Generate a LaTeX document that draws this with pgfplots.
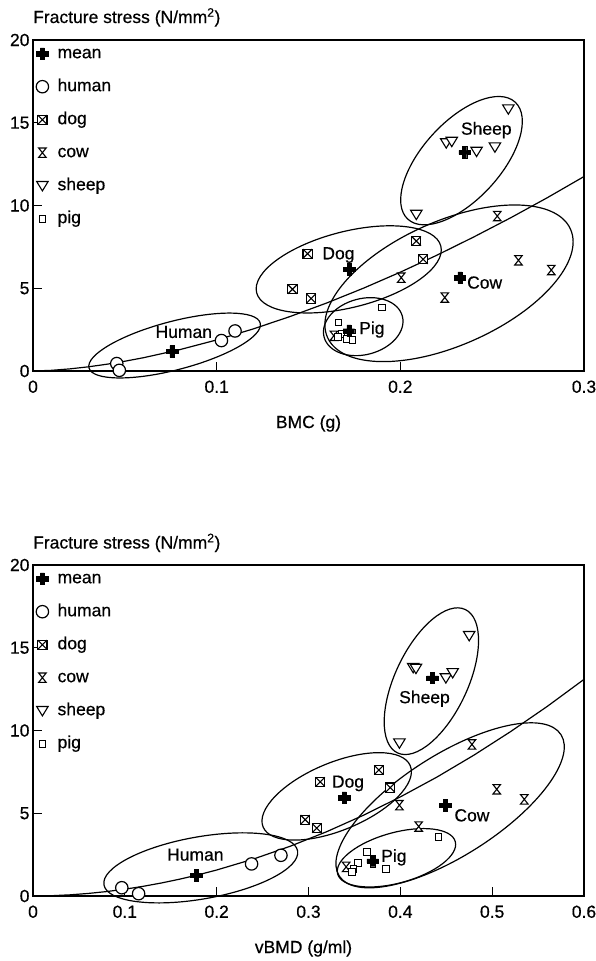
\documentclass[border=0pt]{standalone}
\usepackage{fontspec}
\setmainfont{Liberation Sans}[FakeBold=0.5]
\usepackage{pgfplots}
\pgfplotsset{compat=1.18}

\pgfdeclareplotmark{fatplus}{%
  \pgfpathmoveto{\pgfqpoint{-0.36\pgfplotmarksize}{\pgfplotmarksize}}%
  \pgfpathlineto{\pgfqpoint{0.36\pgfplotmarksize}{\pgfplotmarksize}}%
  \pgfpathlineto{\pgfqpoint{0.36\pgfplotmarksize}{0.36\pgfplotmarksize}}%
  \pgfpathlineto{\pgfqpoint{\pgfplotmarksize}{0.36\pgfplotmarksize}}%
  \pgfpathlineto{\pgfqpoint{\pgfplotmarksize}{-0.36\pgfplotmarksize}}%
  \pgfpathlineto{\pgfqpoint{0.36\pgfplotmarksize}{-0.36\pgfplotmarksize}}%
  \pgfpathlineto{\pgfqpoint{0.36\pgfplotmarksize}{-\pgfplotmarksize}}%
  \pgfpathlineto{\pgfqpoint{-0.36\pgfplotmarksize}{-\pgfplotmarksize}}%
  \pgfpathlineto{\pgfqpoint{-0.36\pgfplotmarksize}{-0.36\pgfplotmarksize}}%
  \pgfpathlineto{\pgfqpoint{-\pgfplotmarksize}{-0.36\pgfplotmarksize}}%
  \pgfpathlineto{\pgfqpoint{-\pgfplotmarksize}{0.36\pgfplotmarksize}}%
  \pgfpathlineto{\pgfqpoint{-0.36\pgfplotmarksize}{0.36\pgfplotmarksize}}%
  \pgfpathclose
  \pgfusepathqfillstroke}
\pgfdeclareplotmark{boxx}{%
  \pgfpathrectangle{\pgfqpoint{-\pgfplotmarksize}{-\pgfplotmarksize}}{\pgfqpoint{2\pgfplotmarksize}{2\pgfplotmarksize}}%
  \pgfusepathqfillstroke
  \pgfpathmoveto{\pgfqpoint{-\pgfplotmarksize}{-\pgfplotmarksize}}%
  \pgfpathlineto{\pgfqpoint{\pgfplotmarksize}{\pgfplotmarksize}}%
  \pgfpathmoveto{\pgfqpoint{-\pgfplotmarksize}{\pgfplotmarksize}}%
  \pgfpathlineto{\pgfqpoint{\pgfplotmarksize}{-\pgfplotmarksize}}%
  \pgfusepathqstroke}
\pgfdeclareplotmark{hglass}{%
  \pgfpathmoveto{\pgfqpoint{-0.8\pgfplotmarksize}{\pgfplotmarksize}}%
  \pgfpathlineto{\pgfqpoint{0.8\pgfplotmarksize}{\pgfplotmarksize}}%
  \pgfpathlineto{\pgfqpoint{-0.8\pgfplotmarksize}{-\pgfplotmarksize}}%
  \pgfpathlineto{\pgfqpoint{0.8\pgfplotmarksize}{-\pgfplotmarksize}}%
  \pgfpathclose
  \pgfusepathqfillstroke}
\pgfdeclareplotmark{dtri}{%
  \pgfpathmoveto{\pgfqpoint{-1.1\pgfplotmarksize}{0.8\pgfplotmarksize}}%
  \pgfpathlineto{\pgfqpoint{1.1\pgfplotmarksize}{0.8\pgfplotmarksize}}%
  \pgfpathlineto{\pgfqpoint{0pt}{-\pgfplotmarksize}}%
  \pgfpathclose
  \pgfusepathqfillstroke}

\newcommand\bigfont{\fontsize{17.5}{21}\selectfont}

\tikzset{ell/.style={black, line width=1.2pt}}

\pgfplotsset{
  meanst/.style={only marks, color=black, mark=fatplus, mark size=5.8pt, mark options={fill=black, line width=0.4pt}},
  humst/.style={only marks, color=black, mark=*, mark size=6.2pt, mark options={fill=white, line width=1.2pt}},
  dogst/.style={only marks, color=black, mark=boxx, mark size=4.6pt, mark options={fill=white, line width=1.1pt}},
  cowst/.style={only marks, color=black, mark=hglass, mark size=4.7pt, mark options={fill=white, line width=1.1pt}},
  sheepst/.style={only marks, color=black, mark=dtri, mark size=5.2pt, mark options={fill=white, line width=1.1pt}},
  pigst/.style={only marks, color=black, mark=square*, mark size=3.4pt, mark options={fill=white, line width=1pt}},
  frac/.style={
    scale only axis, width=551pt, height=331pt,
    clip=false,
    ymin=0, ymax=20, ytick={0,5,10,15,20}, yticklabels={0,5,10,15,20},
    xtick pos=bottom, ytick pos=left,
    tick align=inside, major tick length=9pt,
    axis line style={line width=1.1pt},
    major tick style={line width=1.1pt, black},
    ticklabel style={font=\bigfont},
    xticklabel style={yshift=-6pt},
    legend style={at={(rel axis cs:0,1)}, anchor=north west, xshift=3pt, yshift=-5pt,
      draw=none, fill=none, inner sep=0pt, row sep=16pt, column sep=9pt,
      font=\bigfont, nodes={inner sep=0pt, text height=13pt, text depth=4pt}},
    legend cell align=left,
    legend image code/.code={\draw[##1] plot coordinates {(0pt,0pt)};},
  }
}

\begin{document}
\begin{tikzpicture}[font=\bigfont]
\useasboundingbox (0,0) rectangle (595pt,-961pt);

% ---------------- top: BMC ----------------
\begin{axis}[frac, at={(33pt,-371pt)}, anchor=south west,
  xmin=0, xmax=0.3, xtick={0,0.1,0.2,0.3}, xticklabels={0,0.1,0.2,0.3}]
\addlegendimage{meanst}\addlegendentry{mean}
\addlegendimage{humst}\addlegendentry{human}
\addlegendimage{dogst}\addlegendentry{dog}
\addlegendimage{cowst}\addlegendentry{cow}
\addlegendimage{sheepst}\addlegendentry{sheep}
\addlegendimage{pigst}\addlegendentry{pig}

\addplot[black, line width=1.2pt, forget plot] coordinates {
 (0,0) (0.01,0.040) (0.02,0.128) (0.03,0.251) (0.04,0.406) (0.05,0.590) (0.06,0.800)
 (0.08,1.293) (0.10,1.877) (0.12,2.545) (0.14,3.294) (0.16,4.113) (0.18,5.007)
 (0.20,5.972) (0.22,7.002) (0.24,8.100) (0.26,9.253) (0.28,10.47) (0.30,11.75)};

\draw[ell, rotate around={14.7:(axis cs:0.0771,1.54)}] (axis cs:0.0771,1.54) ellipse [x radius=88.5pt, y radius=24.2pt];
\draw[ell, rotate around={14.2:(axis cs:0.1719,6.14)}] (axis cs:0.1719,6.14) ellipse [x radius=95pt, y radius=38pt];
\draw[ell, rotate around={47.5:(axis cs:0.2333,12.71)}] (axis cs:0.2333,12.71) ellipse [x radius=79.4pt, y radius=38.9pt];
\draw[ell, rotate around={15:(axis cs:0.1798,2.68)}] (axis cs:0.1798,2.68) ellipse [x radius=40.5pt, y radius=28pt];
\draw[ell, rotate around={24:(axis cs:0.2265,5.30)}] (axis cs:0.2265,5.30) ellipse [x radius=133pt, y radius=62pt];

\addplot[humst, forget plot] coordinates {(0.0456,0.45) (0.047,0.04) (0.1026,1.84) (0.110,2.42)};
\addplot[dogst, forget plot] coordinates {(0.1495,7.09) (0.2087,7.85) (0.2124,6.75) (0.1413,4.94) (0.1514,4.38)};
\addplot[cowst, forget plot] coordinates {(0.2528,9.36) (0.2005,5.64) (0.2643,6.69) (0.2822,6.10) (0.2242,4.44) (0.1638,2.13)};
\addplot[sheepst, forget plot] coordinates {(0.2588,15.83) (0.225,13.78) (0.228,13.87) (0.2415,13.27) (0.2515,13.53) (0.2087,9.46)};
\addplot[pigst, forget plot] coordinates {(0.190,3.84) (0.1663,2.93) (0.168,2.25) (0.171,1.95) (0.174,1.85) (0.166,2.05)};
\addplot[meanst, forget plot] coordinates {(0.0757,1.18) (0.1723,6.14) (0.235,13.21) (0.2324,5.64) (0.172,2.43)};

\node[anchor=base] at (axis cs:0.0821,2.0) {Human};
\node[anchor=base] at (axis cs:0.1663,6.75) {Dog};
\node[anchor=base] at (axis cs:0.2468,14.28) {Sheep};
\node[anchor=base] at (axis cs:0.2459,4.98) {Cow};
\node[anchor=base] at (axis cs:0.1845,2.23) {Pig};

\node[anchor=base west, inner sep=0pt, yshift=17pt] at (rel axis cs:0,1) {Fracture stress (N/mm\textsuperscript{2})};
\node[anchor=base, inner sep=0pt, yshift=-57pt] at (rel axis cs:0.5,0) {BMC (g)};
\end{axis}

% ---------------- bottom: vBMD ----------------
\begin{axis}[frac, at={(33pt,-896pt)}, anchor=south west,
  xmin=0, xmax=0.6, xtick={0,0.1,0.2,0.3,0.4,0.5,0.6}, xticklabels={0,0.1,0.2,0.3,0.4,0.5,0.6}]
\addlegendimage{meanst}\addlegendentry{mean}
\addlegendimage{humst}\addlegendentry{human}
\addlegendimage{dogst}\addlegendentry{dog}
\addlegendimage{cowst}\addlegendentry{cow}
\addlegendimage{sheepst}\addlegendentry{sheep}
\addlegendimage{pigst}\addlegendentry{pig}

\addplot[black, line width=1.2pt, forget plot] coordinates {
 (0,0) (0.02,0.018) (0.04,0.070) (0.06,0.154) (0.08,0.268) (0.10,0.412) (0.12,0.586)
 (0.14,0.789) (0.16,1.021) (0.18,1.281) (0.20,1.571) (0.24,2.233) (0.28,3.006)
 (0.32,3.891) (0.36,4.883) (0.40,5.988) (0.44,7.191) (0.48,8.507) (0.52,9.931)
 (0.56,11.457) (0.60,13.09)};

\draw[ell, rotate around={9.95:(axis cs:0.1827,1.70)}] (axis cs:0.1827,1.70) ellipse [x radius=98.3pt, y radius=31.1pt];
\draw[ell, rotate around={22.6:(axis cs:0.3307,6.02)}] (axis cs:0.3307,6.02) ellipse [x radius=79.7pt, y radius=33.8pt];
\draw[ell, rotate around={64.7:(axis cs:0.4338,12.98)}] (axis cs:0.4338,12.98) ellipse [x radius=79.3pt, y radius=36.3pt];
\draw[ell, rotate around={32.5:(axis cs:0.4542,5.48)}] (axis cs:0.4542,5.48) ellipse [x radius=131.5pt, y radius=50.5pt];
\draw[ell, rotate around={15.4:(axis cs:0.3958,2.31)}] (axis cs:0.3958,2.31) ellipse [x radius=61pt, y radius=25.2pt];

\addplot[humst, forget plot] coordinates {(0.0967,0.50) (0.115,0.14) (0.238,1.94) (0.270,2.46)};
\addplot[dogst, forget plot] coordinates {(0.3128,6.90) (0.3766,7.61) (0.389,6.55) (0.2964,4.61) (0.309,4.10)};
\addplot[cowst, forget plot] coordinates {(0.478,9.16) (0.399,5.49) (0.505,6.45) (0.535,5.84) (0.420,4.20) (0.341,1.76)};
\addplot[sheepst, forget plot] coordinates {(0.475,15.73) (0.414,13.80) (0.417,13.75) (0.4496,13.18) (0.457,13.49) (0.399,9.24)};
\addplot[pigst, forget plot] coordinates {(0.4416,3.55) (0.364,2.67) (0.354,2.00) (0.349,1.65) (0.347,1.45) (0.384,1.65)};
\addplot[meanst, forget plot] coordinates {(0.178,1.26) (0.339,5.94) (0.435,13.18) (0.449,5.47) (0.370,2.12)};

\node[anchor=base] at (axis cs:0.1768,2.14) {Human};
\node[anchor=base] at (axis cs:0.343,6.55) {Dog};
\node[anchor=base] at (axis cs:0.4263,11.65) {Sheep};
\node[anchor=base] at (axis cs:0.478,4.51) {Cow};
\node[anchor=base] at (axis cs:0.393,2.06) {Pig};

\node[anchor=base west, inner sep=0pt, yshift=16.5pt] at (rel axis cs:0,1) {Fracture stress (N/mm\textsuperscript{2})};
\node[anchor=base, inner sep=0pt, yshift=-57pt, xshift=-5pt] at (rel axis cs:0.5,0) {vBMD (g/ml)};
\end{axis}
\end{tikzpicture}
\end{document}
